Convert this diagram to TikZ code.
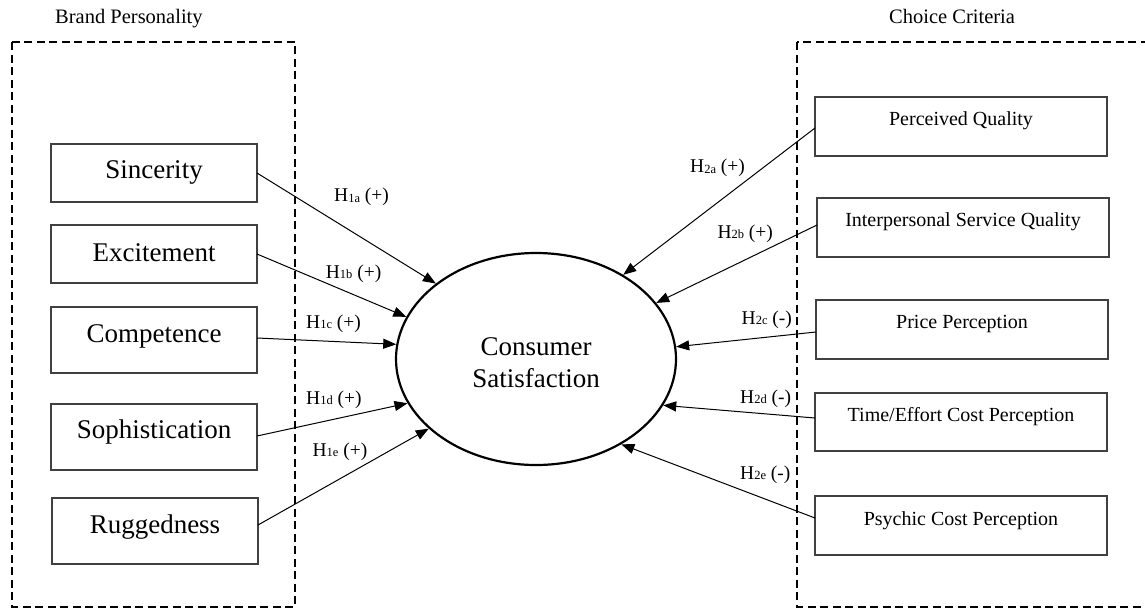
\documentclass[tikz,border=0pt]{standalone}
\usepackage{fontspec}
\setmainfont{Liberation Serif}
\usetikzlibrary{arrows.meta,shapes.geometric}
\newcommand\hyplab[2]{H{\fontsize{12.5}{12.5}\selectfont\raisebox{-0.6pt}{#1}} (#2)}
\tikzset{
  group/.style={draw=black, line width=2pt, dash pattern=on 8pt off 4.5pt},
  lbox/.style={draw=black!75, line width=1.2pt, rectangle, inner sep=0pt, outer sep=0pt, minimum width=206pt},
  rbox/.style={draw=black!75, line width=1.2pt, rectangle, inner sep=0pt, outer sep=0pt, minimum width=292pt},
  ltext/.style={anchor=base, inner sep=0pt, font=\fontsize{27}{32}\selectfont},
  rtext/.style={anchor=base, inner sep=0pt, font=\fontsize{20}{24}\selectfont},
  title/.style={anchor=base west, inner sep=0pt, font=\fontsize{20.5}{24}\selectfont},
  hyp/.style={anchor=base west, inner sep=0pt, font=\fontsize{19.5}{22}\selectfont},
  conn/.style={line width=1pt, -{Triangle[length=13pt,width=10pt]}},
  core/.style={draw=black, line width=2.2pt, ellipse, minimum width=280pt, minimum height=212pt, inner sep=0pt}
}
\begin{document}
\begin{tikzpicture}[x=1pt,y=-1pt]
\useasboundingbox (0,0) rectangle (1145,608);
% groups
\draw[group] (12,42) rectangle (295,606.5);
\draw[group] (797,42) rectangle (1152,606.5);
\node[title] (bp) at (55,23.3) {Brand Personality};
\node[title] (cc) at (889,23.3) {Choice Criteria};
% left boxes
\node[lbox, minimum height=58pt] (sinc) at (154,173) {};
\node[lbox, minimum height=58pt] (exc) at (154,254) {};
\node[lbox, minimum height=66pt] (comp) at (154,340) {};
\node[lbox, minimum height=66pt] (soph) at (154,437) {};
\node[lbox, minimum height=66pt] (rug) at (155,531) {};
\node[ltext] (sinct) at (154,178.3) {Sincerity};
\node[ltext] (exct) at (154,261) {Excitement};
\node[ltext] (compt) at (154,342.7) {Competence};
\node[ltext] (sopht) at (154,438.3) {Sophistication};
\node[ltext] (rugt) at (155,533) {Ruggedness};
% right boxes
\node[rbox, minimum height=59pt] (pq) at (961,126.5) {};
\node[rbox, minimum height=59pt] (ipq) at (963,227.5) {};
\node[rbox, minimum height=59pt] (price) at (962,329.5) {};
\node[rbox, minimum height=58pt] (time) at (961,422) {};
\node[rbox, minimum height=59pt] (psy) at (961,525.5) {};
\node[rtext] (pqt) at (961,125.7) {Perceived Quality};
\node[rtext] (ipqt) at (963,226.7) {Interpersonal Service Quality};
\node[rtext] (pricet) at (962,328.3) {Price Perception};
\node[rtext] (timet) at (961,421.7) {Time/Effort Cost Perception};
\node[rtext] (psyt) at (961,525) {Psychic Cost Perception};
% centre
\node[core] (cs) at (536,359) {};
\node[ltext] (cs1) at (536,355.7) {Consumer};
\node[ltext] (cs2) at (536,387.3) {Satisfaction};
% connectors
\draw[conn] (sinc.east) -- (cs.143);
\draw[conn] (exc.east) -- (cs.162);
\draw[conn] ([yshift=2pt]comp.east) -- (cs.174.5);
\draw[conn] ([yshift=1pt]soph.east) -- (cs.199);
\draw[conn] ([yshift=6pt]rug.east) -- (cs.213);
\draw[conn] ([yshift=-1.5pt]pq.west) -- (cs.44);
\draw[conn] ([yshift=2.5pt]ipq.west) -- (cs.25);
\draw[conn] ([yshift=-2.5pt]price.west) -- (cs.5);
\draw[conn] ([yshift=4pt]time.west) -- (cs.-20.5);
\draw[conn] ([yshift=7.5pt]psy.west) -- (cs.-45);
% hypothesis labels
\node[hyp] (h1a) at (334,201.7) {\hyplab{1a}{+}};
\node[hyp] (h1b) at (325.7,278.3) {\hyplab{1b}{+}};
\node[hyp] (h1c) at (306,328.3) {\hyplab{1c}{+}};
\node[hyp] (h1d) at (306,404) {\hyplab{1d}{+}};
\node[hyp] (h1e) at (312.3,456) {\hyplab{1e}{+}};
\node[hyp] (h2a) at (690,172.7) {\hyplab{2a}{+}};
\node[hyp] (h2b) at (717.3,238.3) {\hyplab{2b}{+}};
\node[hyp] (h2c) at (741.5,324.3) {\hyplab{2c}{-}};
\node[hyp] (h2d) at (740,403.3) {\hyplab{2d}{-}};
\node[hyp] (h2e) at (740,479.3) {\hyplab{2e}{-}};
\end{tikzpicture}
\end{document}
